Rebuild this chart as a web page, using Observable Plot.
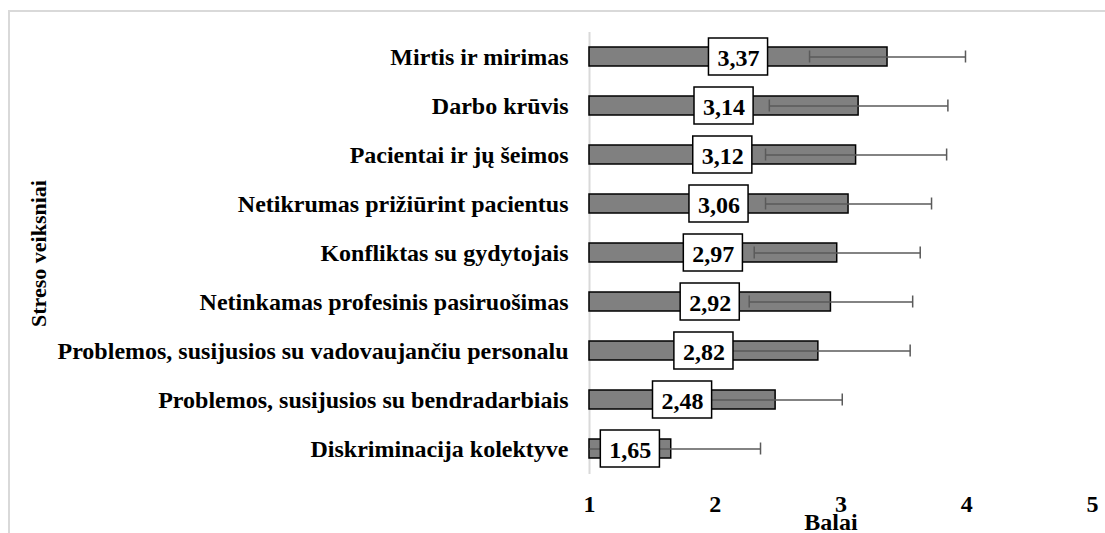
<!DOCTYPE html>
<html>
<head>
<meta charset="utf-8">
<script src="https://cdn.jsdelivr.net/npm/d3@7"></script>
<script src="https://cdn.jsdelivr.net/npm/@observablehq/plot@0.6"></script>
<style>
  html, body { margin: 0; padding: 0; background: #fff; }
  #wrap { position: relative; width: 1105px; height: 533px; overflow: hidden; }
  #frame { position: absolute; left: 8px; top: 10px; width: 1097px; height: 523px;
           border-top: 2px solid #d9d9d9; border-left: 2px solid #d9d9d9; box-sizing: border-box; }
  #chart { position: absolute; left: 0; top: 0; }
  #chart svg { font-family: "Liberation Serif", "Times New Roman", serif; }
</style>
</head>
<body>
<div id="wrap"><div id="frame"></div><div id="chart"></div></div>
<script>
const categories = [
  "Mirtis ir mirimas",
  "Darbo krūvis",
  "Pacientai ir jų šeimos",
  "Netikrumas prižiūrint pacientus",
  "Konfliktas su gydytojais",
  "Netinkamas profesinis pasiruošimas",
  "Problemos, susijusios su vadovaujančiu personalu",
  "Problemos, susijusios su bendradarbiais",
  "Diskriminacija kolektyve"
];
const means = [3.37, 3.14, 3.12, 3.06, 2.97, 2.92, 2.82, 2.48, 1.65];
const sds   = [0.62, 0.71, 0.72, 0.66, 0.66, 0.65, 0.73, 0.53, 0.71];
const xTicks = [1, 2, 3, 4, 5];

const xMin = 1, xMax = 5;
const data = categories.map((c, i) => ({name: c, v: means[i], sd: sds[i]}));
const fmt = v => v.toFixed(2).replace(".", ",");
const boxHalf = 0.235;

const chart = Plot.plot({
  width: 1105,
  height: 533,
  marginLeft: 589,
  marginRight: 13,
  marginTop: 32,
  marginBottom: 59,
  x: {domain: [xMin, xMax]},
  y: {domain: categories, paddingInner: 0.61, paddingOuter: 0.305},
  marks: [
    Plot.ruleX([xMin], {stroke: "#d9d9d9", strokeWidth: 2}),
    Plot.barX(data, {y: "name", x1: xMin, x2: "v", fill: "#808080", stroke: "#000", strokeWidth: 1.5}),
    Plot.link(data, {
      y1: "name", y2: "name",
      x1: d => Math.max(xMin, d.v - d.sd), x2: d => d.v + d.sd,
      stroke: "#5a5a5a", strokeWidth: 1.5
    }),
    Plot.tickX(data.filter(d => d.v - d.sd >= xMin), {y: "name", x: d => d.v - d.sd, stroke: "#5a5a5a", strokeWidth: 1.5, insetTop: 3.5, insetBottom: 3.5}),
    Plot.tickX(data, {y: "name", x: d => d.v + d.sd, stroke: "#5a5a5a", strokeWidth: 1.5, insetTop: 3.5, insetBottom: 3.5}),
    Plot.barX(data, {
      y: "name",
      x1: d => (xMin + d.v) / 2 - boxHalf, x2: d => (xMin + d.v) / 2 + boxHalf,
      fill: "#fff", stroke: "#000", strokeWidth: 1.5, insetTop: -9, insetBottom: -9
    }),
    Plot.text(data, {
      y: "name", x: d => (xMin + d.v) / 2, text: d => fmt(d.v),
      fontSize: 24, fontWeight: "bold", fill: "#000", dy: 1
    }),
    Plot.axisY({
      tickSize: 0, tickPadding: 21, fontSize: 24, fontWeight: "bold", label: null
    }),
    Plot.axisY({
      tickSize: 0, ticks: [], fontSize: 22, fontWeight: "bold",
      label: "Streso veiksniai", labelAnchor: "center", labelOffset: 559, labelArrow: "none"
    }),
    Plot.axisX({
      ticks: xTicks, tickFormat: d => String(d), tickSize: 0, tickPadding: 20, fontSize: 24, fontWeight: "bold", label: null
    }),
    Plot.axisX({
      ticks: [], tickSize: 0, fontSize: 24, fontWeight: "bold",
      label: "Balai", labelAnchor: "center", labelOffset: 55, labelArrow: "none"
    })
  ]
});
chart.querySelectorAll("text").forEach(t => {
  t.setAttribute("fill", "#000");
  if (t.textContent === "Balai") t.setAttribute("dx", "-10");
});
chart.querySelectorAll("g").forEach(g => { if (g.getAttribute("fill") === "currentColor") g.setAttribute("fill", "#000"); });
chart.style.background = "transparent";
document.getElementById("chart").appendChild(chart);
</script>
</body>
</html>
